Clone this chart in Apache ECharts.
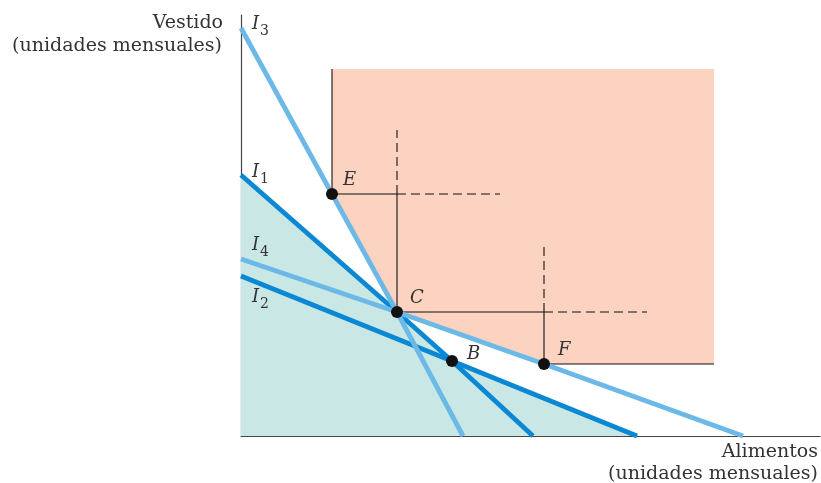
<!DOCTYPE html>
<html>
<head>
<meta charset="utf-8">
<script src="https://cdn.jsdelivr.net/npm/echarts@6/dist/echarts.min.js"></script>
<style>
  html, body { margin: 0; padding: 0; background: #fff; }
  #main { width: 821px; height: 483px; }
</style>
</head>
<body>
<div id="main"></div>
<script>
// puntos de consumo (unidades: alimentos, vestido)
const pointNames = ['E', 'C', 'B', 'F'];
const pointE = [9.1, 24.2];
const pointC = [15.6, 12.4];
const pointB = [21.1, 7.5];
const pointF = [30.3, 7.2];

// curvas / rectas de indiferencia
const i1Line = [[0, 26.1], pointC, pointB, [29.2, 0]];
const i2Line = [[0, 16.0], pointB, [39.6, 0]];
const i3Line = [[0, 40.8], pointE, pointC, [22.2, 0]];
const i4Line = [[0, 17.7], pointC, pointF, [50.2, 0]];

// zona preferida (rosa) y zona menos preferida (verde)
const pinkTop = 36.7;
const pinkRight = 47.3;
const pinkArea = [[pointE[0], pinkTop], [pinkRight, pinkTop], [pinkRight, pointF[1]], pointF, pointC, pointE];
const greenArea = [[0, 0], [0, 26.1], pointC, pointB, [39.6, 0]];

// guías (líneas finas negras)
const eDashEnd = 25.9;
const cDashTop = 30.6;
const cDashEnd = 40.6;
const fDashTop = 19.0;

const xMax = 57.9;
const yMax = 42.1;

const LIGHT = '#6cb9e8';
const DARK = '#0b88d3';
const INK = '#111';
const TXT = '#333';
const SERIF = '"DejaVu Serif", "Liberation Serif", serif';

var chart = echarts.init(document.getElementById('main'), null, { renderer: 'canvas' });

function polygon(pts, color) {
  return {
    type: 'custom',
    silent: true,
    clip: false,
    data: [[0, 0]],
    encode: { x: 0, y: 1 },
    renderItem: function (params, api) {
      return {
        type: 'polygon',
        shape: { points: pts.map(p => api.coord(p)) },
        style: { fill: color }
      };
    }
  };
}

function seg(data, dashed) {
  return {
    type: 'line',
    data: data,
    showSymbol: false,
    silent: true,
    lineStyle: { color: INK, width: 1.1, type: dashed ? [9, 5] : 'solid' }
  };
}

function curve(data, color) {
  return {
    type: 'line',
    data: data,
    showSymbol: false,
    silent: true,
    lineStyle: { color: color, width: 4.8, cap: 'butt' }
  };
}

// subíndices de las curvas I
function curveLabel(num, x, y) {
  return [
    { type: 'text', z: 100, left: x, top: y, style: { text: 'I', font: 'italic 18px ' + SERIF, fill: TXT } },
    { type: 'text', z: 100, left: x + 8, top: y + 9, style: { text: String(num), font: '14px ' + SERIF, fill: TXT } }
  ];
}

function title(text, right, top) {
  return { type: 'text', z: 100, right: right, top: top, style: { text: text, font: '19px ' + SERIF, fill: TXT, align: 'right' } };
}

const labelOffsets = { E: [0, -14], C: [2, -14], B: [4, -7], F: [3, -14] };
const points = [pointE, pointC, pointB, pointF];

var option = {
  animation: false,
  grid: { left: 241, right: 1, top: 15, bottom: 47 },
  xAxis: {
    type: 'value', min: 0, max: xMax,
    axisLine: { show: true, lineStyle: { color: '#444', width: 1.2 } },
    axisTick: { show: false }, axisLabel: { show: false }, splitLine: { show: false }
  },
  yAxis: {
    type: 'value', min: 0, max: yMax,
    axisLine: { show: true, lineStyle: { color: '#444', width: 1.2 } },
    axisTick: { show: false }, axisLabel: { show: false }, splitLine: { show: false }
  },
  graphic: [
    title('Vestido', 821 - 223, 14),
    title('(unidades mensuales)', 821 - 222, 37),
    title('Alimentos', 3, 443),
    title('(unidades mensuales)', 3, 465)
  ].concat(curveLabel(3, 252, 15), curveLabel(1, 252, 163), curveLabel(4, 252, 236), curveLabel(2, 252, 288)),
  series: [
    polygon(pinkArea, '#fcd2c0'),
    polygon(greenArea, '#c9e7e4'),
    seg([[pointE[0], pinkTop], pointE]),
    seg([pointF, [pinkRight, pointF[1]]]),
    seg([pointE, [pointC[0], pointE[1]]]),
    seg([[pointC[0], pointE[1]], [eDashEnd, pointE[1]]], true),
    seg([pointC, [pointC[0], pointE[1]]]),
    seg([[pointC[0], pointE[1]], [pointC[0], cDashTop]], true),
    seg([pointC, [pointF[0], pointC[1]]]),
    seg([[pointF[0], pointC[1]], [cDashEnd, pointC[1]]], true),
    seg([pointF, [pointF[0], pointC[1]]]),
    seg([[pointF[0], pointC[1]], [pointF[0], fDashTop]], true),
    curve(i1Line, DARK),
    curve(i2Line, DARK),
    curve(i3Line, LIGHT),
    curve(i4Line, LIGHT),
    {
      type: 'scatter',
      z: 10,
      symbolSize: 12,
      silent: true,
      itemStyle: { color: '#111', opacity: 1 },
      data: points.map((p, i) => ({
        name: pointNames[i],
        value: p,
        label: { offset: labelOffsets[pointNames[i]] }
      })),
      label: {
        show: true, position: 'right', formatter: '{b}',
        fontFamily: SERIF, fontStyle: 'italic', fontSize: 18, color: TXT
      }
    }
  ]
};
chart.setOption(option);
</script>
</body>
</html>
